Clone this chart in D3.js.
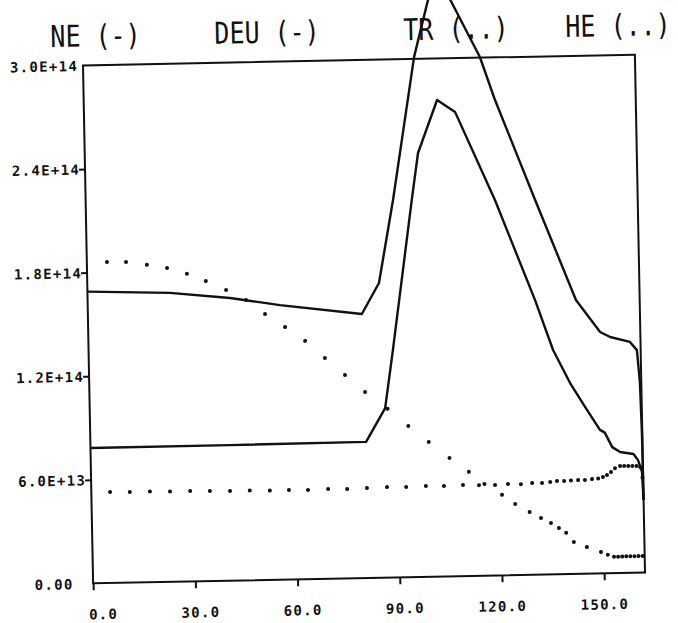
<!DOCTYPE html>
<html>
<head>
<meta charset="utf-8">
<script src="https://cdn.jsdelivr.net/npm/d3@7"></script>
<style>
  html, body { margin: 0; padding: 0; background: #fff; }
  svg { display: block; }
  .tick-label { font-family: "DejaVu Sans Mono", monospace; font-weight: bold; font-size: 14px; letter-spacing: 1.3px; fill: #111; }
  .title { font-family: "DejaVu Sans Mono", monospace; font-size: 25px; fill: #111; }
</style>
</head>
<body>
<div id="chart"></div>
<script>
// Values (y in units of 1e13)
var titles = ['NE (-)', 'DEU (-)', 'TR (..)', 'HE (..)'];
var xTicks = [0, 30, 60, 90, 120, 150];
var xTickLabels = ['0.0', '30.0', '60.0', '90.0', '120.0', '150.0'];
var yTicks = [0, 6, 12, 18, 24, 30];
var yTickLabels = ['0.00', '6.0E+13', '1.2E+14', '1.8E+14', '2.4E+14', '3.0E+14'];

var neData = [[0, 16.9], [24.2, 16.73], [41.8, 16.37], [56.4, 15.9], [80.4, 15.29], [85.6, 17.07],
    [90.2, 21.86], [97.2, 30.12], [101.6, 33.4], [105.0, 34.3], [108.1, 33.4], [116.5, 30.04],
    [120.7, 27.53], [131.9, 21.7], [143.3, 15.86], [150.2, 13.98], [153.1, 13.68], [158.9, 13.37],
    [160.9, 12.89], [161.6, 10.98], [161.9, 8.09], [162, 4.2]];

var deuData = [[0, 7.84], [40.9, 7.85], [80.9, 7.88], [86.7, 9.82], [89.3, 13.17], [95.7, 21.84],
    [97.8, 24.55], [103.7, 27.6], [108.9, 26.89], [120.1, 21.74], [131.3, 15.9], [136.3, 12.99],
    [141.1, 11.06], [145.9, 9.48], [149.6, 8.31], [151.0, 8.15], [153.1, 7.3], [155.4, 7.01],
    [159.3, 6.88], [160.6, 6.52], [161.7, 5.83], [162, 4.2]];

var trData = [[5.9, 18.59], [11.5, 18.57], [17.6, 18.38], [23.5, 18.18], [29.3, 17.82], [34.8, 17.38],
    [40.7, 16.84], [46.5, 16.23], [52.0, 15.4], [57.8, 14.62], [63.6, 13.8], [69.3, 12.79],
    [75.1, 11.78], [80.9, 10.77], [87.4, 9.77], [93.4, 8.76], [99.3, 7.81], [105.3, 6.86],
    [110.9, 6.03], [115.4, 5.31], [120.5, 4.66], [124.3, 4.12], [128.5, 3.64], [131.8, 3.28],
    [134.7, 2.98], [137.0, 2.68], [139.1, 2.39], [141.3, 1.85], [145.1, 1.54], [149.2, 1.24],
    [151.2, 1.08], [153.0, 0.95], [154.2, 0.95], [155.4, 0.95], [156.6, 0.96], [157.8, 0.96],
    [159.0, 0.96], [160.2, 0.96], [161.4, 0.96]];

var heData = [[5.5, 5.27], [11.3, 5.25], [17.2, 5.25], [23.1, 5.23], [29.0, 5.24], [34.8, 5.21],
    [40.7, 5.19], [46.5, 5.2], [52.4, 5.17], [58.0, 5.18], [63.6, 5.16], [69.5, 5.2], [75.1, 5.17],
    [80.9, 5.21], [86.8, 5.24], [92.4, 5.22], [98.2, 5.26], [103.5, 5.24], [109.1, 5.28],
    [113.8, 5.25], [118.5, 5.24], [122.3, 5.28], [126.1, 5.26], [129.4, 5.31], [132.3, 5.3],
    [134.7, 5.35], [136.7, 5.4], [138.8, 5.39], [140.8, 5.41], [142.9, 5.43], [144.9, 5.43],
    [147.0, 5.47], [148.8, 5.5], [150.2, 5.58], [151.4, 5.69], [152.6, 5.86], [153.8, 6.08],
    [155.3, 6.2], [156.5, 6.2], [157.7, 6.19], [158.9, 6.19], [160.1, 6.18], [161.2, 6.12],
    [161.8, 5.5]];

(function() {
    // Layout
    var W = 678, H = 623;
    var plotLeft = 88, plotRight = 640, plotTop = 60, plotBottom = 578;
    var lineColor = '#111';

    var x = d3.scaleLinear().domain([0, 162]).range([plotLeft, plotRight]);
    var y = d3.scaleLinear().domain([0, 30]).range([plotBottom, plotTop]);

    var svg = d3.select('#chart').append('svg')
        .attr('width', W)
        .attr('height', H);

    // The scanned plot is slightly tilted
    var cx = (plotLeft + plotRight) / 2, cy = (plotTop + plotBottom) / 2;
    var g = svg.append('g')
        .attr('transform', 'rotate(-1.12,' + cx + ',' + cy + ')');

    // Titles
    var titleX = [56, 220, 409, 571];
    titles.forEach(function(t, i) {
        g.append('g')
            .attr('transform', 'translate(' + titleX[i] + ',41) scale(1,1.2)')
            .append('text')
            .attr('class', 'title')
            .text(t);
    });

    // Frame
    g.append('rect')
        .attr('x', plotLeft).attr('y', plotTop)
        .attr('width', plotRight - plotLeft).attr('height', plotBottom - plotTop)
        .attr('fill', 'none')
        .attr('stroke', lineColor)
        .attr('stroke-width', 2);

    // Y axis
    var yAxis = d3.axisLeft(y)
        .tickValues(yTicks)
        .tickSize(6)
        .tickFormat(function(d, i) { return yTickLabels[i]; });
    var yg = g.append('g')
        .attr('transform', 'translate(' + plotLeft + ',0)')
        .call(yAxis)
        .attr('font-family', null).attr('font-size', null);
    yg.select('.domain').remove();
    yg.selectAll('.tick line')
        .attr('stroke', lineColor)
        .attr('stroke-width', 2)
        .style('display', function(d) { return (d === 0 || d === 30) ? 'none' : null; });
    yg.selectAll('.tick text')
        .attr('class', 'tick-label')
        .attr('x', -39)
        .attr('dy', '0.36em')
        .attr('text-anchor', 'middle');

    // X axis
    var xAxis = d3.axisBottom(x)
        .tickValues(xTicks)
        .tickSize(7)
        .tickFormat(function(d, i) { return xTickLabels[i]; });
    var xg = g.append('g')
        .attr('transform', 'translate(0,' + plotBottom + ')')
        .call(xAxis)
        .attr('font-family', null).attr('font-size', null);
    xg.select('.domain').remove();
    xg.selectAll('.tick line')
        .attr('stroke', lineColor)
        .attr('stroke-width', 2);
    xg.selectAll('.tick text')
        .attr('class', 'tick-label')
        .attr('x', 24)
        .attr('y', 31)
        .attr('dy', '0.36em')
        .attr('text-anchor', 'end');

    // Solid curves
    var line = d3.line()
        .x(function(d) { return x(d[0]); })
        .y(function(d) { return y(d[1]); });

    [neData, deuData].forEach(function(data) {
        g.append('path')
            .datum(data)
            .attr('fill', 'none')
            .attr('stroke', lineColor)
            .attr('stroke-width', 2.4)
            .attr('stroke-linejoin', 'round')
            .attr('d', line);
    });

    // Dotted curves
    [trData, heData].forEach(function(data) {
        g.append('g').selectAll('circle')
            .data(data)
            .enter()
            .append('circle')
            .attr('cx', function(d) { return x(d[0]); })
            .attr('cy', function(d) { return y(d[1]); })
            .attr('r', 2)
            .attr('fill', lineColor);
    });
})();
</script>
</body>
</html>
